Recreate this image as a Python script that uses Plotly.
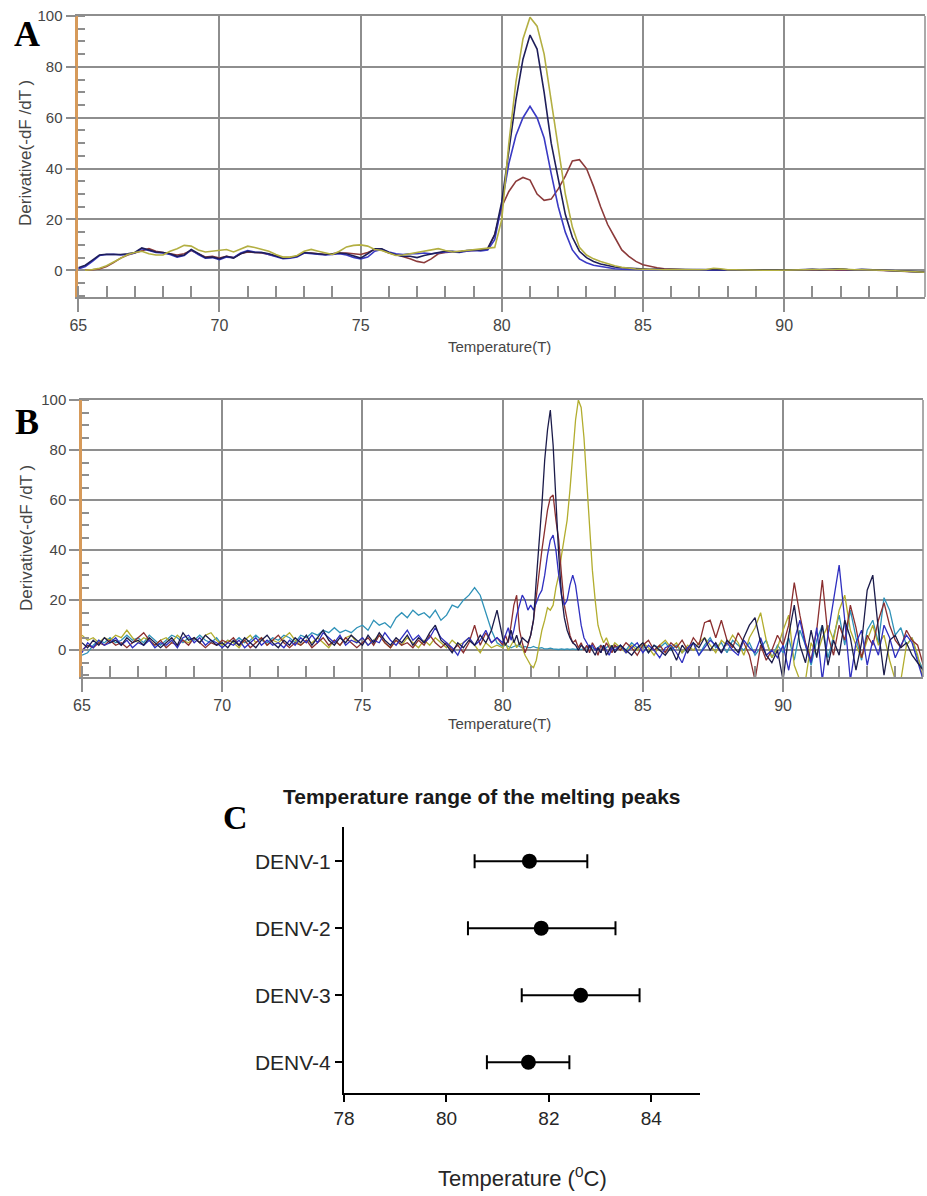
import numpy as np
import plotly.graph_objects as go

# ---------------- data ----------------
# Panel A: melting curves, sampled every 0.25 degree from 65 to 95
A_TEMP = np.linspace(65, 95, 121)

A_NAVY = [1, 2, 4, 6, 6.3, 6.3, 6.2, 6.5,
          7, 8.8, 8, 7.2, 7, 6.5, 5.5, 6,
          8.2, 6.5, 5, 5.2, 4.5, 5.5, 4.8, 6.5,
          7.5, 7, 7, 6.5, 5.5, 4.8, 5, 5.5,
          7, 6.8, 6.5, 6.2, 6.5, 6.8, 6.5, 5.5,
          4.8, 6.5, 8.5, 8.5, 7, 6, 5.5, 5.5,
          5, 5.8, 6.5, 7, 7.5, 7.5, 7.2, 7.8,
          8, 8, 8.5, 14, 27, 46, 67, 83,
          92.5, 87, 70, 50, 36, 22, 13, 7.5,
          5, 3.5, 2.5, 1.8, 1.3, 1, 0.8, 0.6,
          0.5, 0.4, 0.5, 0.3, 0.4, 0.3, 0.3, 0.3,
          0.3, 0.2, 0.3, 0.2, 0.2, 0.2, 0.2, 0.2,
          0.2, 0.1, 0.1, 0.1, 0, 0, 0.2, 0.3,
          0.4, 0.2, 0.3, 0.5, 0.6, 0.3, 0.2, 0.4,
          0.3, 0.2, 0.2, 0.1, 0, -0.2, -0.4, -0.6,
          -0.8]
A_BLUE = [0.5, 1.5, 3.5, 5.8, 6.2, 6.3, 6, 6.2,
          6.8, 8.5, 7.8, 7, 6.8, 6.2, 5.2, 5.8,
          8, 6.2, 4.8, 5, 4.2, 5.2, 5, 6.8,
          7.8, 7.2, 7, 6.2, 5.2, 4.6, 4.8, 5.2,
          6.8, 6.5, 6.2, 6, 6.2, 6.5, 6, 5,
          4.5, 5.2, 7.5, 8.2, 7.2, 6.5, 6.2, 6.5,
          6.5, 6.8, 6.5, 7, 7.2, 7.2, 7, 7.5,
          7.8, 7.6, 8, 12, 26, 42, 53, 60,
          64.5, 60, 52, 38, 25, 15, 8, 4.5,
          3, 2, 1.5, 1, 0.6, 0.4, 0.3, 0.2,
          0.2, 0.1, 0.1, 0.1, 0, 0, 0, 0,
          0, 0, 0, 0, 0, 0, 0, 0,
          0, 0, 0, 0, 0, 0, 0.1, 0.2,
          0.3, 0.2, 0.2, 0.3, 0.4, 0.2, 0.1, 0.2,
          0.2, 0.1, 0, -0.1, -0.2, -0.3, -0.5, -0.6,
          -0.8]
A_OLIVE = [0, 0, 0.3, 0.8, 1.8, 3.2, 4.8, 6.2,
           7, 7.5, 6.5, 6, 6, 7.5, 8.5, 9.8,
           9.5, 8, 7.2, 7.5, 7.8, 8.2, 7.2, 8.5,
           9.5, 9, 8.2, 7.5, 6.2, 5.2, 5.2, 5.8,
           7.5, 8.2, 7.5, 6.8, 6.2, 7.5, 9.2, 9.8,
           10, 9.5, 8.2, 7.8, 6.8, 5.8, 6, 6.5,
           7, 7.5, 8, 8.5, 7.8, 7.2, 7.5, 7.8,
           8, 8.2, 8.5, 9, 20, 50, 74, 91,
           99.5, 96, 85, 66, 49, 30, 17, 9,
           6, 4.5, 3.5, 2.5, 1.8, 1.2, 0.8, 0.5,
           0.4, 0.3, 0.3, 0.2, 0.3, 0.2, 0.2, 0.2,
           0.2, 0.3, 0.8, 0.6, 0.2, 0.2, 0.1, 0.1,
           0.1, 0, 0, 0, 0, 0, 0.1, 0.2,
           0.3, 0.2, 0.2, 0.3, 0.5, 0.3, 0.2, 0.2,
           0.2, 0.1, 0, -0.1, -0.2, -0.3, -0.5, -0.6,
           -0.8]
A_BROWN = [0, 0, 0.2, 0.5, 1.5, 3, 4.8, 6,
           6.8, 7.5, 8.5, 7.5, 7, 6.5, 6, 6.5,
           7.8, 6.5, 5.2, 5.5, 4.8, 5.5, 5, 6.5,
           7.2, 7, 6.8, 6.2, 5.5, 5, 5, 5.5,
           6.8, 6.8, 6.5, 6.2, 6.5, 6.8, 6.8, 6.5,
           6.2, 7, 8.2, 8, 6.8, 6.2, 5.5, 4.5,
           3.5, 3, 4.5, 6.5, 7, 7.2, 7.2, 7.5,
           7.8, 8, 8.5, 14, 25, 31, 35, 36.5,
           35.5, 30, 27.5, 28, 32, 37, 43, 43.5,
           40, 33, 25, 18, 13, 8, 5.5, 3.5,
           2.2, 1.5, 1, 0.6, 0.4, 0.3, 0.2, 0.2,
           0.2, 0.2, 0.1, 0.1, 0.1, 0, 0, 0,
           0, 0, 0, 0, 0, 0, 0, 0,
           0, 0, 0, 0, 0, 0, 0, 0,
           0, 0, -0.1, -0.2, -0.3, -0.4, -0.5, -0.6,
           -0.8]

# Panel B: noisy melting curves; 0.2 step, 0.1 step around the peaks
B_TEMP = np.concatenate([np.linspace(65, 79.8, 75),
                         np.linspace(80, 83.9, 40),
                         np.linspace(84, 95, 56)])

B_TEAL = [-2, -1, 2, 4, 3, 5, 3, 4, 6, 4,
          5, 3, 6, 4, 2, 4, 6, 5, 3, 5,
          4, 6, 4, 3, 5, 2, 4, 3, 5, 3,
          4, 6, 4, 3, 5, 4, 6, 5, 3, 6,
          5, 7, 6, 8, 7, 9, 7, 8, 7, 9,
          10, 8, 12, 10, 11, 9, 13, 15, 13, 16,
          14, 15, 13, 16, 12, 14, 18, 17, 20, 22,
          25, 22, 15, 8, 3,
          1.5, 2, 1.5, 1, 1.5, 2, 1.5, 1, 1.5, 1,
          1, 1.5, 1, 0.8, 1, 0.5, 0.5, 0.8, 0.5, 0.3,
          0.3, 0.5, 0.3, 0.5, 0.3, 0.5, 0.3, 0.5, 0.3, 0.5,
          1, 2, 1, 0.5, 1, 2, 0.5, 1, 2, 1,
          1, 2, 0, 3, 1, 2, -1, 2, 1, 3,
          0, 2, -1, 1, 3, -2, 2, 5, 1, 3,
          -1, 4, 2, 0, 3, -2, 1, 4, -3, 2,
          -1, 5, -4, 8, 2, -6, 4, 10, -3, 6,
          14, 2, 16, 5, -4, 8, 12, 3, 21, 16,
          6, 9, 2, 5, -3, -8]
B_OLIVE = [6, 4, 5, 3, 5, 4, 6, 5, 8, 5,
           3, 5, 4, 2, 4, 5, 3, 6, 4, 3,
           5, 3, 6, 7, 4, 2, 4, 3, 1, 4,
           6, 3, 5, 2, 4, 3, 5, 7, 4, 2,
           4, 3, 5, 3, 1, 4, 2, 5, 6, 3,
           5, 2, 4, 6, 3, 1, 4, 2, 5, 3,
           1, 4, 2, 5, 3, 1, 4, 2, 3, 5,
           2, -1, 3, 1, 2,
           1, 3, 0, 2, 4, 1, 3, 1, -2, -4,
           -6, -7, -4, 2, 8, 12, 17, 16, 18, 25,
           30, 38, 45, 52, 64, 78, 92, 100, 97, 85,
           68, 50, 32, 20, 10, 6, 3, 5, 2, 1,
           3, 1, -1, 2, 0, 3, 1, -2, 2, 4,
           1, 3, -1, 2, 0, 3, 5, 2, -1, 4,
           2, 6, 3, -2, 5, 9, 15, 4, -3, 1,
           8, 14, -6, -12, -12, 3, -2, 5, 10, 4,
           16, 22, 8, 2, -3, 4, 10, 2, 6, -4,
           -12, -12, 2, 5, -2, -12]
B_NAVY = [3, 1, 4, 2, 5, 3, 4, 2, 5, 3,
          4, 2, 5, 3, 1, 3, 5, 2, 7, 4,
          5, 3, 6, 4, 2, 3, 1, 4, 2, 5,
          3, 1, 4, 6, 3, 1, 4, 2, 5, 3,
          6, 2, 5, 8, 4, 2, 5, 3, 6, 4,
          2, 6, 3, 7, 4, 2, 5, 3, 6, 2,
          5, 3, 7, 10, 4, 2, -1, 3, 1, 4,
          2, 6, 3, 8, 16,
          5, 2, 4, 8, 3, 6, 2, 5, 4, 3,
          6, 12, 28, 42, 58, 76, 88, 96, 82, 60,
          38, 22, 13, 8, 5, 3, 2, 0, 2, 1,
          -1, 2, 0, -2, 1, -1, 2, -2, 0, 2,
          -1, 2, 0, -2, 1, 3, -1, 2, 0, -2,
          1, -4, 2, -1, 3, 1, 5, 0, 3, -1,
          4, 2, -1, 5, 10, 13, 3, -2, -5, 0,
          -12, 6, 18, 2, -5, 8, -3, 10, -6, 4,
          -2, 12, 5, -8, 3, 24, 30, 8, -10, 4,
          6, 1, 3, -2, -5, -8]
B_MAROON = [0, 2, 1, 3, 2, 4, 2, 3, 1, 3,
            5, 7, 4, 2, 4, 1, 3, 2, 4, 2,
            5, 3, 1, 3, 2, 4, 3, 5, 2, 4,
            1, 3, 5, 2, 4, 6, 3, 1, 3, 2,
            4, 1, 3, 5, 2, 4, 2, 5, 3, 1,
            3, 5, 2, 6, 3, 1, 4, 2, 3, 1,
            4, 2, 6, 3, 1, 3, 0, 2, -1, 3,
            10, 2, 7, 3, 5,
            2, 6, 3, 10, 18, 22, 8, 3, -1, 2,
            6, 12, 22, 32, 40, 48, 56, 61, 62, 52,
            44, 30, 18, 12, 6, 3, 4, 1, 3, 0,
            2, -1, 3, 1, -2, 2, 0, 3, 1, -1,
            2, 0, 3, 1, -2, 2, 4, 0, 2, -1,
            3, 1, 4, 0, 5, 2, 11, 12, 5, 12,
            4, 1, 7, 3, -2, -12, 2, -4, 0, 6,
            2, 10, 27, 14, 3, -4, 8, 28, 6, -2,
            10, 4, 18, 9, -3, 6, 2, 12, 19, 10,
            4, 1, 8, 4, 2, -6]
B_BLUE = [-1, 3, 1, 4, 2, 3, 5, 2, 4, 1,
          3, 2, 4, 1, 3, 2, 4, 1, 5, 6,
          3, 5, 2, 4, 3, 1, 3, 2, 4, 1,
          3, 5, 2, 4, 2, 3, 1, 4, 2, 5,
          3, 6, 3, 7, 5, 3, 6, 2, 4, 3,
          5, 2, 4, 3, 7, 4, 2, 5, 8, 4,
          6, 3, 5, 9, 5, 3, 1, -2, 3, 5,
          2, 4, 8, 3, 5,
          3, 6, 9, 4, 8, 14, 18, 22, 20, 16,
          18, 16, 19, 22, 24, 30, 38, 44, 46, 40,
          30, 22, 18, 20, 26, 30, 26, 18, 10, 5,
          3, 1, 2, 0, 1, -1, 2, 0, -2, 1,
          0, 2, -1, 1, 3, -1, 2, 0, -3, 1,
          2, -1, -5, 1, 3, -2, 1, 4, 2, -1,
          3, 0, -2, 4, 1, -1, 5, -2, 0, -3,
          2, -8, 4, 12, 2, -5, 9, -12, 6, 20,
          34, 12, -12, 3, 8, -6, 4, -2, 10, 5,
          -3, 2, 6, 3, -4, -12]

# Panel C: melting peak temperature ranges
C_GROUPS = ["DENV-1", "DENV-2", "DENV-3", "DENV-4"]
C_MEAN = [81.62, 81.85, 82.62, 81.6]
C_LOW = [80.55, 80.42, 81.47, 80.79]
C_HIGH = [82.75, 83.3, 83.77, 82.4]

for s in (A_NAVY, A_BLUE, A_OLIVE, A_BROWN):
    assert len(s) == len(A_TEMP)
for s in (B_TEAL, B_OLIVE, B_NAVY, B_MAROON, B_BLUE):
    assert len(s) == len(B_TEMP)

# ---------------- figure ----------------
W, H = 927, 1196
GRID = "#8e8e8e"
ORANGE = "#d69a5a"
LBL = "#454545"
SANS = "Liberation Sans, Arial, sans-serif"
SERIF = "Liberation Serif, Times New Roman, serif"

fig = go.Figure()

for vals, col in [(A_BROWN, "#8c3b3b"), (A_BLUE, "#3a3ac4"),
                  (A_NAVY, "#1e1e5a"), (A_OLIVE, "#b3af42")]:
    fig.add_trace(go.Scatter(x=A_TEMP, y=vals, mode="lines",
                             line=dict(color=col, width=1.6),
                             xaxis="x", yaxis="y", showlegend=False))

for vals, col in [(B_TEAL, "#2f92b8"), (B_OLIVE, "#b2ad2e"),
                  (B_MAROON, "#8b2f2f"), (B_BLUE, "#2f2fc0"),
                  (B_NAVY, "#1b1b4a")]:
    fig.add_trace(go.Scatter(x=B_TEMP, y=vals, mode="lines",
                             line=dict(color=col, width=1.3),
                             xaxis="x2", yaxis="y2", showlegend=False))

err_plus = [h - m for h, m in zip(C_HIGH, C_MEAN)]
err_minus = [m - l for m, l in zip(C_MEAN, C_LOW)]
fig.add_trace(go.Scatter(
    x=C_MEAN, y=C_GROUPS, mode="markers",
    marker=dict(color="black", size=15),
    error_x=dict(type="data", array=err_plus, arrayminus=err_minus,
                 color="black", thickness=2, width=7),
    xaxis="x3", yaxis="y3", showlegend=False))


def melt_x(domain, rng):
    return dict(domain=domain, range=rng, tick0=65, dtick=5,
                automargin=False,
                ticks="outside", ticklen=13, tickcolor=GRID, tickwidth=1.5,
                showgrid=True, gridcolor=GRID, gridwidth=1.5, zeroline=False,
                showline=True, linecolor=GRID, linewidth=1.5, mirror=True,
                minor=dict(dtick=1, ticks="inside", ticklen=11,
                           tickcolor=GRID, tickwidth=1.5, showgrid=False),
                tickfont=dict(family=SANS, size=16, color=LBL))


def melt_y(domain, rng):
    return dict(domain=domain, range=rng, tick0=0, dtick=20,
                automargin=False,
                ticks="outside", ticklen=10, tickcolor=GRID, tickwidth=1.5,
                showgrid=True, gridcolor=GRID, gridwidth=1.5, zeroline=False,
                showline=True, linecolor=ORANGE, linewidth=2.5,
                minor=dict(dtick=5, ticks="inside", ticklen=7,
                           tickcolor=GRID, tickwidth=1.5, showgrid=False),
                tickfont=dict(family=SANS, size=15, color=LBL))


fig.update_layout(
    width=W, height=H,
    margin=dict(l=0, r=0, t=0, b=0, autoexpand=False),
    paper_bgcolor="white", plot_bgcolor="white",
    xaxis=dict(melt_x([78.3 / W, 925 / W], [65, 94.99]), anchor="y"),
    yaxis=dict(melt_y([1 - 297 / H, 1 - 16 / H], [-10.5, 100]), anchor="x"),
    xaxis2=dict(melt_x([82 / W, 923 / W], [65, 94.99]), anchor="y2"),
    yaxis2=dict(melt_y([1 - 677 / H, 1 - 400 / H], [-10.7, 100]), anchor="x2"),
    xaxis3=dict(domain=[344 / W, 700 / W], range=[78, 84.95], anchor="y3",
                automargin=False,
                tickvals=[78, 80, 82, 84], ticks="outside", ticklen=7,
                tickwidth=2, tickcolor="black", showline=True,
                linecolor="black", linewidth=2, showgrid=False,
                zeroline=False,
                tickfont=dict(family=SANS, size=19, color="#262626")),
    yaxis3=dict(domain=[1 - 1093 / H, 1 - 827 / H], anchor="x3",
                automargin=False,
                type="category", categoryarray=C_GROUPS,
                range=[3.46, -0.51], ticks="outside", ticklen=7,
                tickwidth=2, tickcolor="black", showline=True,
                linecolor="black", linewidth=2, showgrid=False,
                tickfont=dict(family=SANS, size=21, color="#262626")),
)

# right borders of the two melt panels
for xr, yr in [("x domain", "y domain"), ("x2 domain", "y2 domain")]:
    fig.add_shape(type="line", xref=xr, yref=yr, x0=1, x1=1, y0=0, y1=1,
                  line=dict(color=GRID, width=1.5))


def px_note(text, x, y, size, family=SANS, color=LBL, angle=0):
    fig.add_annotation(text=text, x=x / W, y=1 - y / H, xref="paper",
                       yref="paper", showarrow=False, textangle=angle,
                       xanchor="center", yanchor="middle",
                       font=dict(family=family, size=size, color=color))


px_note("<b>A</b>", 27, 34, 36, SERIF, "black")
px_note("<b>B</b>", 27, 422, 36, SERIF, "black")
px_note("<b>C</b>", 235, 817, 34, SERIF, "black")
px_note("Derivative(-dF /dT )", 26, 153, 17, angle=-90)
px_note("Derivative(-dF /dT )", 26, 538, 17, angle=-90)
px_note("Temperature(T)", 499, 347, 15)
px_note("Temperature(T)", 499, 723, 15)
px_note("<b>Temperature range of the melting peaks</b>", 482, 797, 21,
        color="#1a1a1a")
px_note("Temperature (<sup>0</sup>C)", 522, 1177, 22, color="#262626")

# page body has a default 8px margin; drop it so the figure fills the window
fig.write_html("out.html", config={"displayModeBar": False},
               post_script="document.body.style.margin='0';")
